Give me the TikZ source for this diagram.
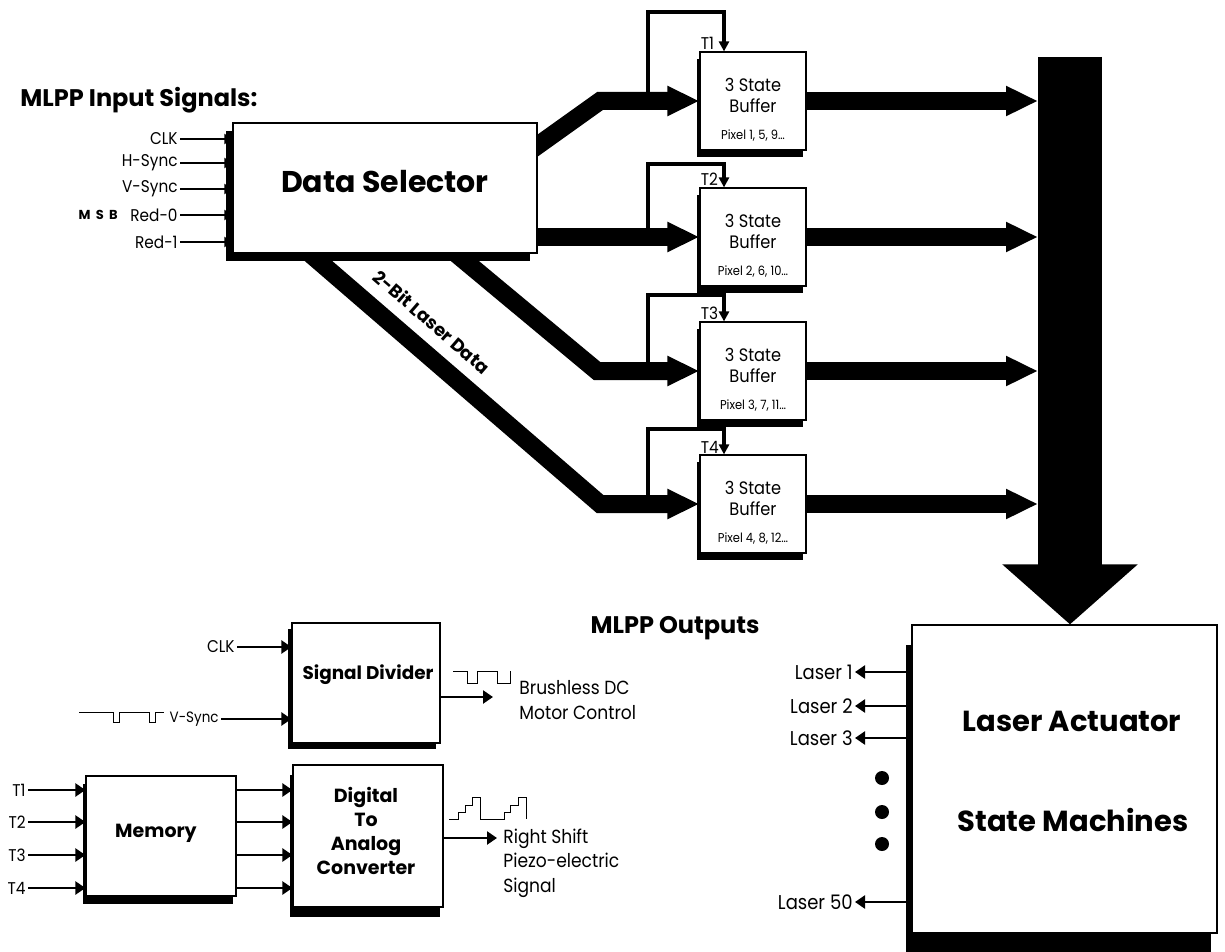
\documentclass[tikz,border=0pt]{standalone}
\usepackage{fontspec}
\setmainfont{Poppins}[FakeStretch=0.9, BoldFeatures={FakeStretch=1}]
\usetikzlibrary{arrows.meta,calc,shadows,backgrounds}

\begin{document}
\begin{tikzpicture}[x=0.5pt,y=-0.5pt,
  blk/.style={draw, line width=0.6pt, fill=white, inner sep=0pt, align=center},
  shd/.style 2 args={general shadow={fill=black, shadow xshift=#1, shadow yshift=#2}},
  buf/.style={blk, shd={-1.5pt}{-3.5pt}, minimum width=53pt, minimum height=49pt},
  bus/.style={line width=9pt, -{Triangle[length=16pt,width=14pt]}},
  tline/.style={line width=2pt, -{Triangle[length=5pt,width=5pt]}},
  sig/.style={line width=1pt, -{Triangle[length=4pt,width=5pt]}},
  sigb/.style={line width=1.2pt, -{Triangle[length=5pt,width=6.5pt]}},
  lbl/.style={font=\fontsize{8.5}{10}\selectfont, inner sep=1pt},
  txt/.style={font=\fontsize{9.5}{12.3}\selectfont, inner sep=1pt},
  bld/.style={font=\bfseries\fontsize{9.5}{12}\selectfont, inner sep=1pt},
]
\useasboundingbox (0,0) rectangle (1225,952);

\node[anchor=west, inner sep=0pt, font=\bfseries\fontsize{12}{14}\selectfont] (intitle) at (20,100) {MLPP Input Signals:};

% selector with its five inputs
\node[blk, shd={-3.5pt}{-4pt}, minimum width=152pt, minimum height=65pt] (sel) at (385,188) {};
\node[font=\bfseries\fontsize{15}{17}\selectfont] (seltxt) at (385,182) {Data Selector};
\foreach \nm/\y in {CLK/139, H-Sync/163, V-Sync/189, Red-0/215, Red-1/242} {
  \node[lbl, anchor=east] (in-\nm) at (180,\y) {\nm};
  \draw[sig] (in-\nm.east) -- (in-\nm.east -| sel.west);
}
\node[anchor=east, inner sep=1pt, font=\bfseries\fontsize{6.5}{8}\selectfont\addfontfeatures{LetterSpace=40}] (msb) at (120,215) {MSB};

% tri-state buffers
\coordinate (tx) at (648,0);
\coordinate (ta) at (724,0);
\coordinate (mtop) at (1070,57);
\coordinate (mleft) at (1038,57);
\foreach \i/\y/\px in {1/101/{1, 5, 9}, 2/237/{2, 6, 10}, 3/371/{3, 7, 11}, 4/504/{4, 8, 12}} {
  \node[buf] (buf\i) at (753,\y) {};
  \node[align=center, font=\fontsize{9}{10.5}\selectfont] (bt\i) at ($(buf\i.center)+(0,-6)$) {3 State\\Buffer};
  \node[font=\fontsize{6.4}{7}\selectfont] (bp\i) at ($(buf\i.south)+(0,-15)$) {Pixel \px\dots};
  \node[lbl, anchor=south west, inner sep=0.5pt] (tl\i) at (buf\i.north west) {T\i};
  \draw[bus] (buf\i.east) -- (buf\i.east -| mleft);
}
\foreach \i/\h in {1/39, 2/23, 3/26, 4/25}
  \draw[tline] (tx |- buf\i.west) |- ($(ta |- buf\i.north)+(0,-\h)$) -- (ta |- buf\i.north);

% laser data buses
\coordinate (s1) at (516,161);
\coordinate (k1) at (600,101);
\coordinate (s3) at (436,237);
\coordinate (k3) at (597,371);
\coordinate (s4) at (293,239);
\coordinate (k4) at (600,504);
\begin{scope}[on background layer]
  \draw[bus] (s1) -- (k1) -- (buf1.west);
  \draw[bus] (sel.east |- buf2.west) -- (buf2.west);
  \draw[bus] (s3) -- (k3) -- (buf3.west);
  \draw[bus] (s4) -- (k4) -- (buf4.west);
\end{scope}
\node[rotate=-41, font=\bfseries\fontsize{9}{10}\selectfont] (bitlbl) at (432,322) {2-Bit Laser Data};

% actuator
\node[blk, shd={-3pt}{-10pt}, minimum width=152.5pt, minimum height=154pt] (act) at (1064.5,779) {};
\draw[line width=32pt, -{Triangle[length=30pt,width=66pt]}] (mtop) -- (mtop |- act.north);
\node[font=\bfseries\fontsize{14.5}{16}\selectfont] (acttop) at (1072,721) {Laser Actuator};
\node[font=\bfseries\fontsize{14.5}{16}\selectfont] (actbot) at (1073,820) {State Machines};
\foreach \n/\y in {1/672, 2/706, 3/738, 50/902} {
  \node[anchor=east, inner sep=1pt, font=\fontsize{10}{12}\selectfont] (las\n) at (855,\y) {Laser \n};
  \draw[sigb] (act.west |- las\n) -- (las\n.east);
}
\foreach \y in {778, 812, 844}
  \fill (882,\y) circle (7);

\node[font=\bfseries\fontsize{12}{14}\selectfont] (outtitle) at (675,628) {MLPP Outputs};

% signal divider
\node[blk, shd={-2pt}{-3pt}, minimum width=74pt, minimum height=60pt] (div) at (366,683) {};
\node[font=\bfseries\fontsize{9.2}{11}\selectfont] (divtxt) at (368,675) {Signal Divider};
\node[lbl, anchor=east] (dclk) at (237,647) {CLK};
\draw[sigb] (dclk.east) -- (dclk.east -| div.west);
\node[anchor=east, inner sep=1pt, font=\fontsize{7.5}{9}\selectfont] (dvs) at (221,719) {V-Sync};
\draw[sigb] (dvs.east) -- (dvs.east -| div.west);
\draw[line width=0.5pt] (79,712) -| (113,722) -| (119,712) -| (149,722) -| (155,712) -- (164,712);
\coordinate (bdcin) at (493,697);
\draw[sigb] (div.east |- bdcin) -- (bdcin);
\node[txt, anchor=west, align=left] (bdc) at (517,700) {Brushless DC\\Motor Control};
\draw[line width=0.5pt] (453,671) -| (467,683) -| (477,671) -| (497,683) -| (510,671);

% memory and converter
\node[blk, shd={-1.5pt}{-4pt}, minimum width=75pt, minimum height=60pt] (mem) at (161,836) {};
\node[bld] (memtxt) at (156,833) {Memory};
\node[blk, shd={-1.5pt}{-5pt}, minimum width=75pt, minimum height=71pt] (dac) at (368,836) {};
\node[bld, align=center] (dactxt) at (366,831) {Digital\\To\\Analog\\Converter};
\foreach \i/\y in {1/790, 2/822, 3/855, 4/888} {
  \node[lbl, anchor=east] (mt\i) at (28,\y) {T\i};
  \draw[sigb] (mt\i.east) -- (mt\i.east -| mem.west);
  \draw[sigb] (mem.east |- mt\i) -- (dac.west |- mt\i);
}
\coordinate (rsin) at (497,838);
\draw[sigb] (dac.east |- rsin) -- (rsin);
\node[txt, anchor=west, align=left] (rs) at (501,863) {Right Shift\\Piezo-electric\\Signal};
\draw[line width=0.5pt] (449,819) -| (458,812) -| (465,805) -| (472,797) -| (480,819) -| (504,812) -| (510,805) -| (518,797) -| (526,819);

\end{tikzpicture}
\end{document}
